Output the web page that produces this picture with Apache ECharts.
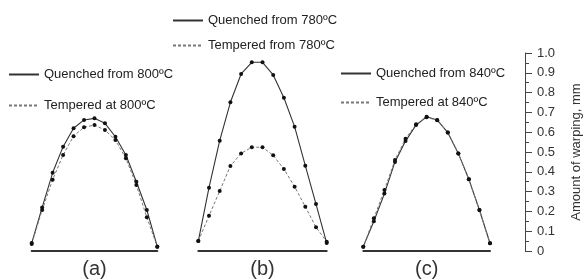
<!DOCTYPE html>
<html>
<head>
<meta charset="utf-8">
<script src="https://cdn.jsdelivr.net/npm/echarts@6/dist/echarts.min.js"></script>
<style>
  html, body { margin: 0; padding: 0; background: #fff; }
  #chart { width: 584px; height: 280px; }
</style>
</head>
<body>
<div id="chart"></div>
<script>
// measuring positions along the specimen
var positions = [0, 1, 2, 3, 4, 5, 6, 7, 8, 9, 10, 11, 12]

// (a) 800ºC
var quenched800 = [0.04, 0.22, 0.395, 0.527, 0.62, 0.662, 0.67, 0.645, 0.577, 0.485, 0.35, 0.207, 0.022]
var tempered800 = [0.035, 0.207, 0.36, 0.485, 0.58, 0.625, 0.636, 0.611, 0.56, 0.468, 0.333, 0.17, 0.022]

// (b) 780ºC
var quenched780 = [0.05, 0.32, 0.557, 0.751, 0.894, 0.953, 0.953, 0.889, 0.774, 0.628, 0.431, 0.237, 0.04]
var tempered780 = [0.05, 0.178, 0.303, 0.429, 0.493, 0.524, 0.524, 0.483, 0.414, 0.325, 0.224, 0.12, 0.047]

// (c) 840ºC
var quenched840 = [0.022, 0.15, 0.29, 0.45, 0.555, 0.636, 0.678, 0.662, 0.598, 0.493, 0.362, 0.207, 0.039]
var tempered840 = [0.022, 0.165, 0.308, 0.46, 0.567, 0.64, 0.675, 0.66, 0.598, 0.493, 0.362, 0.207, 0.039]

var panelNames = ['(a)', '(b)', '(c)']
var yTicks = [0, 0.1, 0.2, 0.3, 0.4, 0.5, 0.6, 0.7, 0.8, 0.9, 1.0]

var font = 'Liberation Sans, Arial, sans-serif'
var grids = [
  { left: 31.7, top: 53, width: 125.6, height: 198, outerBoundsMode: 'none' },
  { left: 198.3, top: 53, width: 128.4, height: 198, outerBoundsMode: 'none' },
  { left: 363.3, top: 53, width: 126.7, height: 198, outerBoundsMode: 'none' }
]

function xAx (i) {
  return {
    gridIndex: i,
    type: 'category',
    boundaryGap: false,
    data: positions,
    axisLine: { lineStyle: { color: '#333', width: 2 } },
    axisTick: { show: false },
    axisLabel: { show: false },
    splitLine: { show: false },
    name: panelNames[i],
    nameLocation: 'middle',
    nameGap: 8,
    nameTextStyle: { fontFamily: font, fontSize: 20, color: '#333', fontWeight: 300 }
  }
}

function yAx (i, visible) {
  return {
    gridIndex: i,
    type: 'value',
    min: yTicks[0],
    max: yTicks[yTicks.length - 1],
    interval: 0.1,
    show: visible,
    position: 'right',
    offset: 35,
    axisLine: { show: true, lineStyle: { color: '#444', width: 1 } },
    axisTick: { show: true, length: 7, lineStyle: { color: '#444' } },
    minorTick: { show: true, splitNumber: 2, length: 4, lineStyle: { color: '#444' } },
    splitLine: { show: false },
    axisLabel: {
      margin: 12,
      fontFamily: font,
      fontSize: 13,
      color: '#333',
      formatter: function (v) { return v === 0 ? '0' : v.toFixed(1) }
    },
    name: visible ? 'Amount of warping, mm' : '',
    nameLocation: 'middle',
    nameRotate: 90,
    nameGap: 45,
    nameTextStyle: { fontFamily: font, fontSize: 13, color: '#333' }
  }
}

function line (name, i, values, dashed) {
  return {
    name: name,
    type: 'line',
    xAxisIndex: i,
    yAxisIndex: i,
    data: values,
    symbol: 'circle',
    symbolSize: 4,
    itemStyle: { color: '#111' },
    lineStyle: dashed
      ? { color: '#777', width: 1, type: [3, 2] }
      : { color: '#333', width: 1.1 },
    silent: true,
    animation: false
  }
}

function legend (names, left, top, gap) {
  return {
    data: names,
    orient: 'vertical',
    left: left,
    top: top,
    padding: 0,
    itemWidth: 30,
    itemHeight: 14,
    itemGap: gap,
    itemStyle: { opacity: 0 },
    selectedMode: false,
    textStyle: { fontFamily: font, fontSize: 13, color: '#222' }
  }
}

var chart = echarts.init(document.getElementById('chart'))
chart.setOption({
  backgroundColor: '#fff',
  animation: false,
  grid: grids,
  xAxis: [xAx(0), xAx(1), xAx(2)],
  yAxis: [yAx(0, false), yAx(1, false), yAx(2, true)],
  legend: [
    legend(['Quenched from 800ºC', 'Tempered at 800ºC'], 8, 68, 18),
    legend(['Quenched from 780ºC', 'Tempered from 780ºC'], 172, 14, 12),
    legend(['Quenched from 840ºC', 'Tempered at 840ºC'], 340, 67, 16)
  ],
  series: [
    line('Quenched from 800ºC', 0, quenched800, false),
    line('Tempered at 800ºC', 0, tempered800, true),
    line('Quenched from 780ºC', 1, quenched780, false),
    line('Tempered from 780ºC', 1, tempered780, true),
    line('Quenched from 840ºC', 2, quenched840, false),
    line('Tempered at 840ºC', 2, tempered840, true)
  ]
})
</script>
</body>
</html>
